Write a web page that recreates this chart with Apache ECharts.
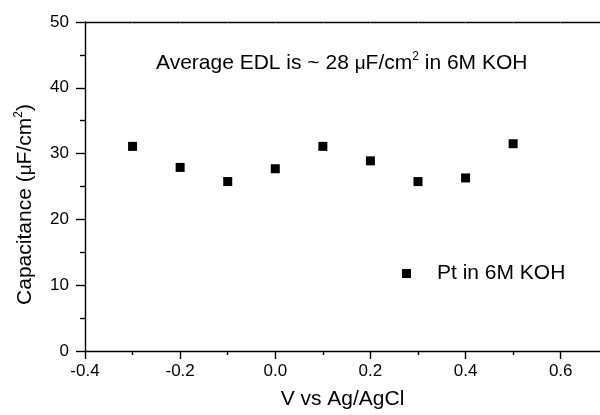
<!DOCTYPE html>
<html>
<head>
<meta charset="utf-8">
<script src="https://cdn.jsdelivr.net/npm/echarts@6/dist/echarts.min.js"></script>
<style>html,body{margin:0;padding:0;background:#fff}#c{width:600px;height:415px}</style>
</head>
<body>
<div id="c"></div>
<script>
// Data
const potentials = [-0.3, -0.2, -0.1, 0.0, 0.1, 0.2, 0.3, 0.4, 0.5];
const capacitance = [31.1, 27.9, 25.75, 27.7, 31.1, 28.9, 25.75, 26.3, 31.5];
const xMajorTicks = [-0.4, -0.2, 0.0, 0.2, 0.4, 0.6];
const xMinorTicks = [-0.3, -0.1, 0.1, 0.3, 0.5];
const xTopTicks = [-0.3, -0.2, -0.1, 0.0, 0.1, 0.2, 0.3, 0.4, 0.5, 0.6];
const seriesName = 'Pt in 6M KOH';

const FONT = '"Liberation Sans", Arial, sans-serif';
const chart = echarts.init(document.getElementById('c'), null, {renderer: 'canvas'});
// visible x range (the right part of the original frame is cropped off)
const xmin = -0.4, xmax = 0.6826;
const lw = 1.4;

chart.setOption({
  animation: false,
  backgroundColor: '#fff',
  textStyle: {fontFamily: FONT, color: '#000'},
  grid: {left: 85, top: 22, right: 0, bottom: 63, containLabel: false},
  title: {
    text: 'Average EDL is ~ 28 {mu|μ}F/cm{sup|2} in 6M KOH',
    left: 156, top: 53,
    padding: 0,
    textStyle: {
      fontFamily: FONT, fontSize: 21, fontWeight: 'normal', color: '#000', lineHeight: 21,
      rich: {
        mu: {fontFamily: FONT, fontSize: 19, color: '#000', lineHeight: 21},
        sup: {fontFamily: FONT, fontSize: 12, color: '#000', lineHeight: 21, padding: [0, 0, 14, 0]}
      }
    }
  },
  legend: {
    data: [{name: seriesName, icon: 'rect', itemStyle: {color: '#000', opacity: 1}}],
    left: 402, top: 263,
    itemWidth: 9, itemHeight: 9,
    padding: 0,
    textStyle: {fontFamily: FONT, fontSize: 21, color: '#000', lineHeight: 21, padding: [0, 0, 0, 21]}
  },
  xAxis: [
    {
      type: 'value', min: xmin, max: xmax, position: 'bottom',
      name: 'V vs Ag/AgCl', nameLocation: 'middle', nameGap: 38,
      nameTextStyle: {fontFamily: FONT, fontSize: 21, color: '#000', lineHeight: 21, padding: [0, 0, 0, 0]},
      axisLine: {show: true, onZero: false, lineStyle: {color: '#000', width: lw}},
      axisTick: {show: true, inside: false, length: 8, customValues: xMajorTicks, lineStyle: {color: '#000', width: lw}},
      axisLabel: {show: true, margin: 12, customValues: xMajorTicks, fontFamily: FONT, fontSize: 17, color: '#000',
        formatter: v => v.toFixed(1)},
      splitLine: {show: false}
    },
    {
      type: 'value', min: xmin, max: xmax, position: 'bottom',
      axisLine: {show: false, onZero: false},
      axisTick: {show: true, inside: false, length: 4, customValues: xMinorTicks, lineStyle: {color: '#000', width: lw}},
      axisLabel: {show: false},
      splitLine: {show: false}
    },
    {
      type: 'value', min: xmin, max: xmax, position: 'top',
      axisLine: {show: true, onZero: false, lineStyle: {color: '#000', width: lw}},
      axisTick: {show: true, inside: true, length: 1, customValues: xTopTicks, lineStyle: {color: '#555', width: 1}},
      axisLabel: {show: false},
      splitLine: {show: false}
    }
  ],
  yAxis: [
    {
      type: 'value', min: 0, max: 50, interval: 10, position: 'left',
      name: 'Capacitance ({mu|μ}F/cm{sup|2})', nameLocation: 'middle', nameGap: 49, nameRotate: 90,
      nameTextStyle: {fontFamily: FONT, fontSize: 21, color: '#000', lineHeight: 21, padding: [0, 36, 0, 0],
        rich: {
          mu: {fontFamily: FONT, fontSize: 19, color: '#000', lineHeight: 21},
          sup: {fontFamily: FONT, fontSize: 12, color: '#000', lineHeight: 21, padding: [0, 0, 14, 0]}
        }},
      axisLine: {show: true, onZero: false, lineStyle: {color: '#000', width: lw}},
      axisTick: {show: true, inside: false, length: 9, lineStyle: {color: '#000', width: lw}},
      minorTick: {show: true, splitNumber: 2, length: 5, lineStyle: {color: '#000', width: lw}},
      axisLabel: {show: true, margin: 16, fontFamily: FONT, fontSize: 17, color: '#000'},
      splitLine: {show: false},
      minorSplitLine: {show: false}
    }
  ],
  series: [
    {
      name: seriesName,
      type: 'scatter',
      xAxisIndex: 0, yAxisIndex: 0,
      symbol: 'rect', symbolSize: 9,
      itemStyle: {color: '#000', opacity: 1},
      emphasis: {disabled: true},
      data: potentials.map((x, i) => [x, capacitance[i]])
    }
  ]
});
</script>
</body>
</html>
